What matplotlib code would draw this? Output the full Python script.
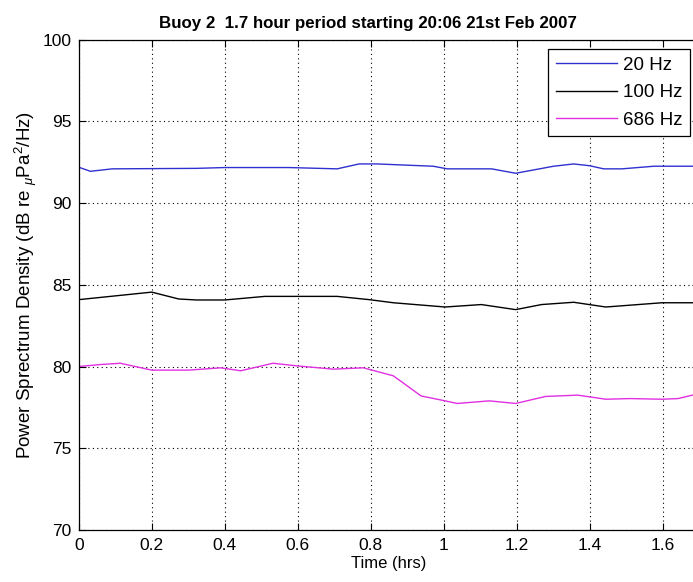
import numpy as np
import matplotlib
matplotlib.use('Agg')
import matplotlib.pyplot as plt

# Spectral levels over the 1.7 hr record, one trace per frequency band
t_20 = [0.0, 0.032, 0.092, 0.323, 0.40, 0.576, 0.708, 0.768, 0.818, 0.971, 1.01,
        1.131, 1.197, 1.301, 1.356, 1.40, 1.438, 1.488, 1.576, 1.70]
psd_20 = [92.19, 91.94, 92.09, 92.12, 92.17, 92.17, 92.09, 92.39, 92.39, 92.25, 92.09,
          92.09, 91.82, 92.25, 92.39, 92.28, 92.09, 92.09, 92.25, 92.25]

t_100 = [0.0, 0.20, 0.274, 0.323, 0.40, 0.51, 0.708, 0.796, 0.862, 1.004, 1.103,
         1.197, 1.268, 1.356, 1.444, 1.598, 1.70]
psd_100 = [84.09, 84.55, 84.13, 84.07, 84.07, 84.29, 84.29, 84.09, 83.90, 83.64, 83.79,
           83.48, 83.79, 83.93, 83.64, 83.90, 83.90]

t_686 = [0.0, 0.059, 0.114, 0.20, 0.301, 0.389, 0.444, 0.532, 0.598, 0.697, 0.78,
         0.862, 0.938, 1.004, 1.037, 1.125, 1.197, 1.279, 1.367, 1.444, 1.51, 1.598,
         1.642, 1.70]
psd_686 = [80.0, 80.12, 80.2, 79.78, 79.78, 79.92, 79.74, 80.2, 80.04, 79.84, 79.92,
           79.43, 78.2, 77.9, 77.74, 77.9, 77.74, 78.17, 78.25, 78.0, 78.04, 78.0,
           78.04, 78.35]

labels = ['20 Hz', '100 Hz', '686 Hz']
colors = ['#3030d0', 'black', '#e030e0']

fam = ['Liberation Sans', 'DejaVu Sans']
plt.rcParams['font.family'] = fam
plt.rcParams['mathtext.fontset'] = 'custom'
plt.rcParams['mathtext.rm'] = 'Liberation Sans'
plt.rcParams['mathtext.it'] = 'Liberation Sans:italic'

fig = plt.figure(figsize=(6.93, 5.82), dpi=100)
# right edge (1.7 hrs) runs just past the figure border
ax = fig.add_axes([0.1136, 0.0893, 0.8954, 0.8428])

for t, psd, lab, c in zip([t_20, t_100, t_686], [psd_20, psd_100, psd_686], labels, colors):
    ax.plot(t, psd, color=c, lw=1.0, label=lab)

ax.set_xlim(0, 1.7)
ax.set_ylim(70, 100)
ax.set_xticks(np.arange(0, 1.61, 0.2))
ax.set_xticklabels(['0', '0.2', '0.4', '0.6', '0.8', '1', '1.2', '1.4', '1.6'])
ax.set_yticks(np.arange(70, 101, 5))
ax.grid(True, color='black', linestyle=(0, (1, 3)), linewidth=0.8)
ax.tick_params(direction='in', top=True, right=True, length=5, width=0.8,
               labelsize=12.5)
ax.tick_params(axis='x', pad=6)
ax.tick_params(axis='y', pad=5)
for s in ax.spines.values():
    s.set_linewidth(0.9)

ax.set_title('Buoy 2  1.7 hour period starting 20:06 21st Feb 2007',
             fontsize=12.2, fontweight='bold', pad=8, x=0.466)
ax.set_xlabel('Time (hrs)', fontsize=12, labelpad=2)
ax.set_ylabel(r'Power Sprectrum Density (dB re $_{\mu}$Pa$^2$/Hz)',
              fontsize=13.5, labelpad=3)

leg = ax.legend(loc='upper right', bbox_to_anchor=(690 / 693, 1 - 49 / 582),
                bbox_transform=fig.transFigure, fancybox=False, framealpha=1,
                edgecolor='black', prop={'size': 13.5},
                handlelength=3.3, borderaxespad=0, labelspacing=0.56,
                handletextpad=0.3, borderpad=0.4)
leg.get_frame().set_linewidth(0.9)
leg.set_zorder(5)

fig.savefig('out.png', dpi=100)
